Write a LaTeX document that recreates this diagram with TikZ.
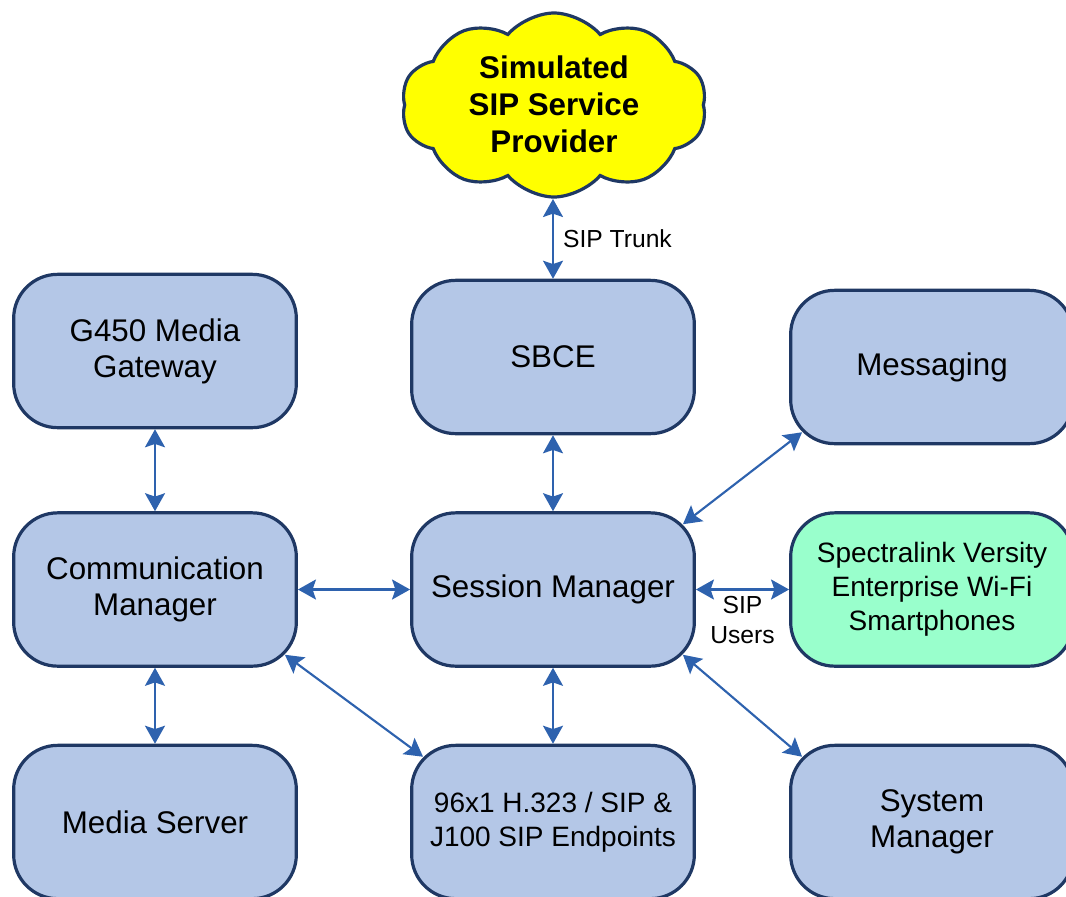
\documentclass[tikz,border=0pt]{standalone}
\usepackage{fontspec}
\setmainfont{Liberation Sans}
\usetikzlibrary{arrows.meta,shapes.symbols,calc}
\definecolor{boxfill}{HTML}{B4C7E7}
\definecolor{boxline}{HTML}{1F3864}
\definecolor{arrowc}{HTML}{2E62AE}
\definecolor{greenfill}{HTML}{99FFCC}
\definecolor{cloudfill}{HTML}{FFFF00}
\begin{document}
\begin{tikzpicture}[x=0.75pt,y=-0.75pt,
  box/.style={draw=boxline, line width=2.4pt, fill=boxfill, rounded corners=33pt,
    minimum width=212pt, minimum height=115pt, align=center, inner sep=0pt,
    font=\fontsize{23.5}{27}\selectfont},
  smallbox/.style={box, font=\fontsize{21}{25.5}\selectfont},
  cloudshape/.style={cloud, draw=boxline, line width=2.4pt, fill=cloudfill,
    cloud puffs=10, cloud puff arc=100, aspect=1.65, inner sep=0pt,
    minimum width=229pt, minimum height=138pt},
  cloudtext/.style={align=center, inner sep=0pt, font=\bfseries\fontsize{23.5}{27.75}\selectfont},
  lbl/.style={inner sep=0pt, align=center, font=\fontsize{18.5}{22.5}\selectfont},
  tip/.style={},
  link/.style={draw=arrowc, line width=1.6pt,
    {Stealth[length=13.5pt,width=15pt,inset=2.5pt]}-{Stealth[length=13.5pt,width=15pt,inset=2.5pt]}}
]
\useasboundingbox (0,0) rectangle (1066,896);

% cloud
\node[cloudshape] (cloud) at (554,105) {};
\node[cloudtext] (sip) at (554,104) {Simulated\\SIP Service\\Provider};
\coordinate (cb) at (553,199);

% boxes
\node[box] (g450) at (155,351) {G450 Media\\Gateway};
\node[box] (sbce) at (553,357) {SBCE};
\node[box] (msg) at (932,367) {Messaging};
\node[box] (cm) at (155,589.5) {Communication\\Manager};
\node[box] (sm) at (553,589.5) {Session Manager};
\node[smallbox, fill=greenfill] (spec) at (932,589.5) {Spectralink Versity\\Enterprise Wi-Fi\\Smartphones};
\node[box] (ms) at (155,822) {Media Server};
\node[smallbox] (ep) at (553,822) {96x1 H.323 / SIP \&\\J100 SIP Endpoints};
\node[box] (sysm) at (932,822) {System\\Manager};

% corner points on rounded corners
\coordinate (smNE) at ($(sm.north east)+(-13,13)$);
\coordinate (smSE) at ($(sm.south east)+(-13,-13)$);
\coordinate (msgSW) at ($(msg.south west)+(13,-13)$);
\coordinate (cmSE) at ($(cm.south east)+(-13,-13)$);
\coordinate (epNW) at ($(ep.north west)+(13,13)$);
\coordinate (sysNW) at ($(sysm.north west)+(13,13)$);

% connectors
\draw[link] (cb) -- node[lbl, anchor=west, xshift=6.75pt] {SIP Trunk} (sbce.north);
\draw[link] (g450.south) -- (cm.north);
\draw[link] (sbce.south) -- (sm.north);
\draw[link] (cm.east) -- (sm.west);
\draw[link] (sm.east) -- node[lbl, anchor=north, yshift=-4pt] {SIP\\Users} (spec.west);
\draw[link] (smNE) -- (msgSW);
\draw[link] (cmSE) -- (epNW);
\draw[link] (smSE) -- (sysNW);
\draw[link] (cm.south) -- (ms.north);
\draw[link] (sm.south) -- (ep.north);
\end{tikzpicture}
\end{document}
